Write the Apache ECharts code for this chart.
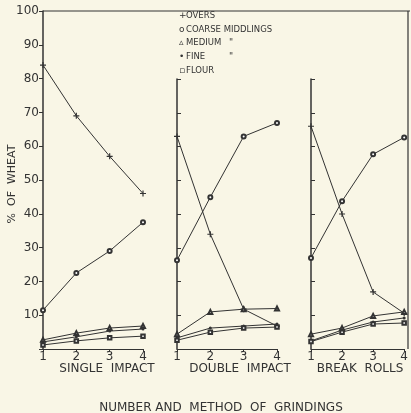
<!DOCTYPE html>
<html>
<head>
<meta charset="utf-8">
<script src="https://cdn.jsdelivr.net/npm/echarts@6/dist/echarts.min.js"></script>
<style>
  html, body { margin: 0; padding: 0; background: #f9f6e6; }
  #chart { width: 411px; height: 413px; }
</style>
</head>
<body>
<div id="chart"></div>
<script>
// number of grindings (x values) and y ticks
const grindings = [1, 2, 3, 4]
const yTicks = [10, 20, 30, 40, 50, 60, 70, 80, 90, 100]

// single impact
const oversSingle = [84, 69, 57, 46]
const coarseSingle = [11.5, 22.5, 29, 37.5]
const mediumSingle = [2.7, 4.7, 6.2, 6.8]
const fineSingle = [2.1, 3.6, 5.3, 5.9]
const flourSingle = [1.2, 2.4, 3.3, 3.8]

// double impact
const oversDouble = [63, 34, 11.8, 6.8]
const coarseDouble = [26.3, 45, 63, 67]
const mediumDouble = [4.4, 11, 11.8, 12]
const fineDouble = [3.3, 6.2, 6.8, 7.4]
const flourDouble = [2.6, 5, 6.2, 6.5]

// break rolls
const oversBreak = [66, 40, 16.9, 10.6]
const coarseBreak = [27, 43.8, 57.7, 62.7]
const mediumBreak = [4.4, 6.2, 9.8, 11]
const fineBreak = [2.4, 5.6, 8, 9.2]
const flourBreak = [2.2, 5, 7.4, 7.7]

const ink = '#333'
const font = 'DejaVu Sans'
const plusSymbol = 'path://M4,0H6V4H10V6H6V10H4V6H0V4H4Z'

const markers = {
  overs: { symbol: plusSymbol, size: 6, border: 0 },
  coarse: { symbol: 'emptyCircle', size: 4, border: 0.8 },
  medium: { symbol: 'emptyTriangle', size: 4, border: 0.8 },
  fine: { symbol: 'circle', size: 3, border: 0 },
  flour: { symbol: 'emptyRect', size: 3.5, border: 0.8 }
}

const generateSeries = (name, kind, values, idx) => {
  return {
    name,
    type: 'line',
    xAxisIndex: idx,
    yAxisIndex: idx,
    data: grindings.map((g, i) => [g, values[i]]),
    symbol: markers[kind].symbol,
    symbolSize: markers[kind].size,
    clip: false,
    silent: true,
    itemStyle: { color: ink, borderColor: ink, borderWidth: markers[kind].border },
    lineStyle: { color: ink, width: 1 }
  }
}

const xAxisFor = (idx) => ({
  type: 'value',
  gridIndex: idx,
  min: 1,
  max: 4,
  interval: 1,
  axisLine: { show: true, lineStyle: { color: ink, width: 1 } },
  axisTick: { show: true, length: 3, lineStyle: { color: ink } },
  splitLine: { show: false },
  axisLabel: { color: ink, fontFamily: font, fontSize: 12, margin: 2 }
})

const yAxisFor = (idx, max, showLabels) => ({
  type: 'value',
  gridIndex: idx,
  min: 0,
  max: max,
  interval: 10,
  axisLine: { show: true, lineStyle: { color: ink, width: 1.5 } },
  axisTick: { show: true, inside: !showLabels, length: 4, lineStyle: { color: ink } },
  splitLine: { show: false },
  axisLabel: {
    show: showLabels,
    color: ink,
    fontFamily: font,
    fontSize: 12,
    margin: 4,
    formatter: (v) => (yTicks.includes(v) ? String(v) : '')
  }
})

const legendRows = [
  ['OVERS', ''],
  ['COARSE MIDDLINGS', ''],
  ['MEDIUM', '"'],
  ['FINE', '"'],
  ['FLOUR', '']
]
const legendMarks = ['+', 'o', '\u25B5', '\u2022', '\u25AB']

const graphics = []
legendRows.forEach((row, i) => {
  const y = 16 + i * 13.8
  graphics.push({ type: 'text', left: 179, top: y - 5, style: { text: legendMarks[i], font: '9px ' + font, fill: ink } })
  graphics.push({ type: 'text', left: 186, top: y - 5, style: { text: row[0], font: '8.5px ' + font, fill: ink } })
  if (row[1]) {
    graphics.push({ type: 'text', left: 229, top: y - 5, style: { text: row[1], font: '9px ' + font, fill: ink } })
  }
})
// top frame line and right edge
graphics.push({ type: 'line', shape: { x1: 43, y1: 11, x2: 410, y2: 11 }, style: { stroke: ink, lineWidth: 1 } })
graphics.push({ type: 'line', shape: { x1: 408, y1: 11, x2: 408, y2: 349 }, style: { stroke: ink, lineWidth: 1.2 } })
// panel titles
const titles = [['SINGLE  IMPACT', 107], ['DOUBLE  IMPACT', 240], ['BREAK  ROLLS', 360]]
titles.forEach(([t, x]) => {
  graphics.push({ type: 'text', x: x, y: 369, style: { text: t, font: '12px ' + font, fill: ink, align: 'center', verticalAlign: 'middle' } })
})
graphics.push({ type: 'text', x: 221, y: 408, style: { text: 'NUMBER AND  METHOD  OF  GRINDINGS', font: '12px ' + font, fill: ink, align: 'center', verticalAlign: 'middle' } })
graphics.push({ type: 'text', x: 12, y: 184, rotation: Math.PI / 2, style: { text: '%  OF  WHEAT', font: '11px ' + font, fill: ink, align: 'center', verticalAlign: 'middle' } })

const option = {
  backgroundColor: '#f9f6e6',
  animation: false,
  grid: [
    { left: 43, width: 100, top: 11, bottom: 64 },
    { left: 177, width: 100, top: 79, bottom: 64 },
    { left: 311, width: 97, top: 79, bottom: 64 }
  ],
  xAxis: [xAxisFor(0), xAxisFor(1), xAxisFor(2)],
  yAxis: [yAxisFor(0, 100, true), yAxisFor(1, 80, false), yAxisFor(2, 80, false)],
  series: [
    generateSeries('OVERS', 'overs', oversSingle, 0),
    generateSeries('COARSE MIDDLINGS', 'coarse', coarseSingle, 0),
    generateSeries('MEDIUM', 'medium', mediumSingle, 0),
    generateSeries('FINE', 'fine', fineSingle, 0),
    generateSeries('FLOUR', 'flour', flourSingle, 0),
    generateSeries('OVERS', 'overs', oversDouble, 1),
    generateSeries('COARSE MIDDLINGS', 'coarse', coarseDouble, 1),
    generateSeries('MEDIUM', 'medium', mediumDouble, 1),
    generateSeries('FINE', 'fine', fineDouble, 1),
    generateSeries('FLOUR', 'flour', flourDouble, 1),
    generateSeries('OVERS', 'overs', oversBreak, 2),
    generateSeries('COARSE MIDDLINGS', 'coarse', coarseBreak, 2),
    generateSeries('MEDIUM', 'medium', mediumBreak, 2),
    generateSeries('FINE', 'fine', fineBreak, 2),
    generateSeries('FLOUR', 'flour', flourBreak, 2)
  ],
  graphic: graphics
}

const chart = echarts.init(document.getElementById('chart'), null, { renderer: 'canvas' })
chart.setOption(option)
window.addEventListener('resize', () => {
  chart && chart.resize()
})
</script>
</body>
</html>
